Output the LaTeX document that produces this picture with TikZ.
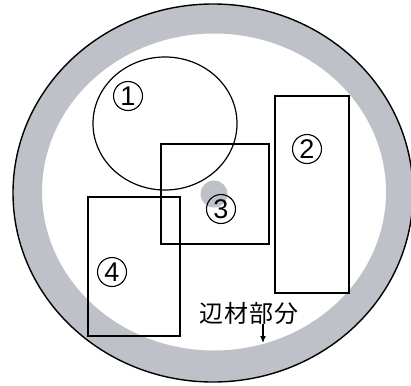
\documentclass[tikz,border=0pt]{standalone}
\usepackage{fontspec}
\usetikzlibrary{arrows.meta}
\newfontfamily\jpfont{Noto Sans CJK JP}
\newfontfamily\digitfont{Liberation Sans}
\definecolor{ringgray}{RGB}{190,193,200}
\begin{document}
\begin{tikzpicture}[x=1pt,y=-1pt,
  outline/.style={draw=black,line width=1.2pt},
  numlabel/.style={circle,draw=black,line width=1.1pt,minimum size=29pt,inner sep=0pt,
    font=\digitfont\fontsize{27}{27}\selectfont}]
\useasboundingbox (0,0) rectangle (411,385);
\clip (0,0) rectangle (411,385);
% wood cross-section: sapwood ring
\fill[ringgray,even odd rule] (213,193) ellipse [x radius=200,y radius=189]
  (214,192) ellipse [x radius=172,y radius=158.5];
\draw[black,line width=1.4pt] (213,193) ellipse [x radius=200,y radius=189];
% gray dot (pith)
\fill[ringgray] (214,194) circle (13.5);
% specimen outlines
\draw[outline] (165,123.5) ellipse [x radius=72,y radius=66.5];
\draw[outline] (275,96) rectangle (349,293);
\draw[outline] (161,144) rectangle (269,244);
\draw[outline] (88,197) rectangle (180,336);
% labels
\node[numlabel] (n1) at (128,96) {1};
\node[numlabel] (n2) at (307,149) {2};
\node[numlabel] (n3) at (221,209) {3};
\node[numlabel] (n4) at (112,272) {4};
\node[font=\jpfont\fontsize{24}{24}\selectfont\addfontfeature{LetterSpace=5},inner sep=0pt] (sap) at (249,313) {辺材部分};
\coordinate (arrowstart) at (263,324);
\coordinate (arrowend) at (263,343);
\draw[line width=1.2pt,-{Latex[length=7pt,width=6pt]}] (arrowstart) -- (arrowend);
\end{tikzpicture}
\end{document}
